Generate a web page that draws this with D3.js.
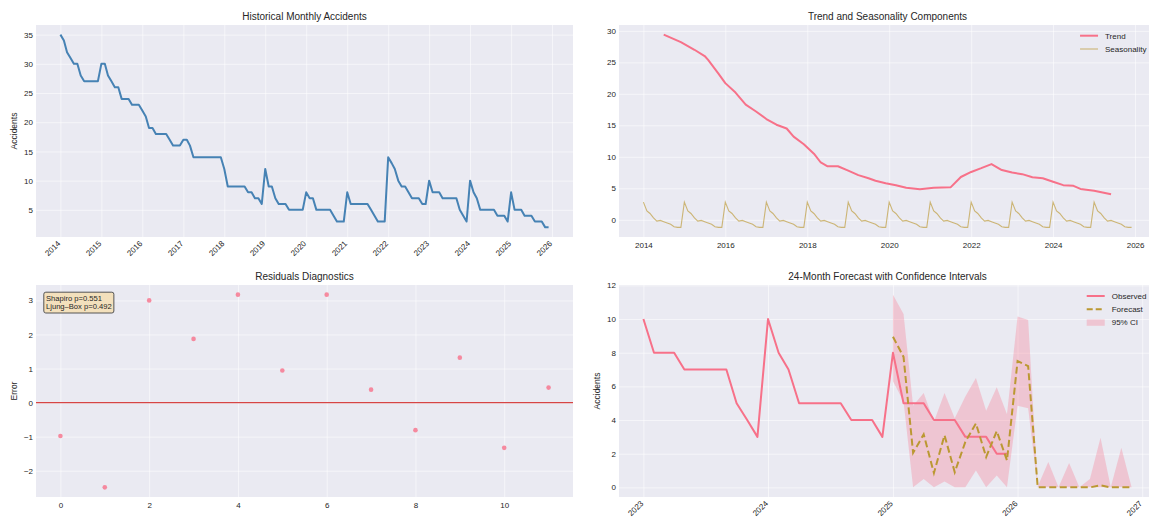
<!DOCTYPE html>
<html>
<head>
<meta charset="utf-8">
<script src="https://d3js.org/d3.v7.min.js"></script>
<style>
  body { margin: 0; background: #fff; }
  svg { display: block; font-family: "Liberation Sans", Arial, sans-serif; }
</style>
</head>
<body>
<svg id="chart" width="1149" height="523"></svg>
<script>
// ---- data ----
var startMonth = "2014-01";
var accidents = [
  35,34,32,31,30,30,28,27,27,27,27,27,
  30,30,28,27,26,26,24,24,24,23,23,23,
  22,21,19,19,18,18,18,18,17,16,16,16,
  17,17,16,14,14,14,14,14,14,14,14,14,
  12,9,9,9,9,9,9,8,8,7,7,6,
  12,9,9,7,6,6,6,5,5,5,5,5,
  8,7,7,5,5,5,5,5,4,3,3,3,
  8,6,6,6,6,6,6,5,4,3,3,3,
  14,13,12,10,9,9,8,7,7,7,6,6,
  10,8,8,8,7,7,7,7,7,5,4,3,
  10,8,7,5,5,5,5,5,4,4,4,3,
  8,5,5,5,4,4,4,3,3,3,2,2
];

var trendMonths = ["2014-07","2014-12","2015-04","2015-07","2015-08","2015-11","2016-01","2016-04",
  "2016-07","2016-10","2017-01","2017-04","2017-07","2017-09","2017-12","2018-03","2018-05","2018-07",
  "2018-10","2019-01","2019-04","2019-07","2019-09","2019-12","2020-03","2020-06","2020-10","2021-02",
  "2021-07","2021-10","2022-01","2022-04","2022-07","2022-10","2023-01","2023-04","2023-07","2023-10",
  "2024-01","2024-04","2024-07","2024-09","2025-01","2025-06"];
var trendValues = [29.4,28.2,27.0,26.0,25.4,23.2,21.7,20.2,
  18.3,17.2,16.0,15.1,14.5,13.2,12.0,10.5,9.1,8.5,
  8.5,7.8,7.1,6.6,6.2,5.8,5.5,5.1,4.85,5.1,
  5.15,6.8,7.6,8.2,8.85,7.9,7.5,7.25,6.75,6.6,
  6.05,5.5,5.4,4.9,4.6,4.05];

// one year of the additive seasonal component, Jan..Dec
var seasonalPattern = [2.8, 1.4, 1.0, 0.3, -0.2, -0.1, -0.3, -0.5, -0.7, -1.1, -1.2, -1.2];

var residuals = [-0.98, -2.49, 3.0, 1.87, 3.17, 0.94, 3.17, 0.38, -0.81, 1.32, -1.33, 0.44];
var shapiroP = "0.551", ljungBoxP = "0.492";

var observedFrom = "2023-01";
var forecastStart = "2025-01";
var forecastValues = [8.95,7.75,2.05,3.15,0.85,3.1,0.9,2.7,3.8,1.8,3.35,1.6,
  7.5,7.2,0,0,0,0,0,0,0.12,0,0,0];
var ciUpper = [11.45,10.3,4.85,5.6,3.9,5.6,4.1,5.4,6.5,4.55,5.95,4.35,
  10.15,9.95,0.05,1.5,0,1.45,0,0.5,2.95,0,2.35,0];
var ciLower = [6.3,5.1,0,0.5,0,0.35,0,0,1.0,0,0.7,0,
  4.85,4.7,0,0,0,0,0,0,0,0,0,0];

// tick values
var histYTicks = [5,10,15,20,25,30,35];
var histXYears = d3.range(2014, 2027);
var compYTicks = [0,5,10,15,20,25,30];
var compXYears = [2014,2016,2018,2020,2022,2024,2026];
var residYTicks = [-2,-1,0,1,2,3];
var residXTicks = [0,2,4,6,8,10];
var fcYTicks = [0,2,4,6,8,10,12];
var fcXYears = [2023,2024,2025,2026,2027];

// ---- layout ----
var svg = d3.select("#chart");
var W = 537, H = 212;
var colX = [36, 619], rowY = [25, 285];
var bg = "#eaeaf2", ink = "#262626";
var pink = "#f77189", gold = "#bb9832";

var parseMonth = d3.timeParse("%Y-%m");
var minus = function(v) { return String(v).replace("-", "\u2212"); };

function monthsFrom(start, n) {
  var s = parseMonth(start);
  return d3.range(n).map(function(i) { return d3.timeMonth.offset(s, i); });
}
// matplotlib-style 5% margins
function padded(ext) {
  var a = +ext[0], b = +ext[1], m = (b - a) * 0.05;
  return [a - m, b + m];
}
function yearDates(years) {
  return years.map(function(y) { return new Date(y, 0, 1); });
}

function addPanel(col, row, title) {
  var g = svg.append("g").attr("transform", "translate(" + col + "," + row + ")");
  g.append("rect").attr("width", W).attr("height", H).attr("fill", bg);
  g.append("text")
    .attr("x", W / 2).attr("y", -5)
    .attr("text-anchor", "middle")
    .attr("font-size", 10)
    .attr("fill", ink)
    .text(title);
  return g;
}

function drawAxes(g, x, y, xTicks, yTicks, xFmt, yFmt, rotate) {
  // white grid
  g.append("g").attr("class", "grid")
    .call(d3.axisLeft(y).tickValues(yTicks).tickSize(-W).tickFormat(""));
  g.append("g").attr("class", "grid")
    .attr("transform", "translate(0," + H + ")")
    .call(d3.axisBottom(x).tickValues(xTicks).tickSize(-H).tickFormat(""));
  g.selectAll(".grid .domain").remove();
  g.selectAll(".grid line").attr("stroke", "#fff").attr("stroke-opacity", 0.55);

  var ya = g.append("g")
    .call(d3.axisLeft(y).tickValues(yTicks).tickSize(0).tickPadding(3).tickFormat(yFmt));
  var xa = g.append("g")
    .attr("transform", "translate(0," + H + ")")
    .call(d3.axisBottom(x).tickValues(xTicks).tickSize(0).tickPadding(5).tickFormat(xFmt));
  [ya, xa].forEach(function(a) {
    a.select(".domain").remove();
    a.attr("font-size", 8).attr("font-family", null);
    a.selectAll("text").attr("fill", ink);
  });
  if (rotate) {
    xa.selectAll("text")
      .attr("text-anchor", "end")
      .attr("y", 0)
      .attr("dy", "0.71em")
      .attr("transform", "translate(-4,3) rotate(-45)");
  }
}

function yLabel(g, dx, label) {
  g.append("text")
    .attr("transform", "translate(" + dx + "," + (H / 2) + ") rotate(-90)")
    .attr("text-anchor", "middle")
    .attr("dy", "0.35em")
    .attr("font-size", 8.5)
    .attr("fill", ink)
    .text(label);
}

function addLegend(g, items, top) {
  var lg = g.append("g");
  var step = 13.3;
  var texts = items.map(function(d, i) {
    return lg.append("text")
      .attr("y", top + i * step)
      .attr("dy", "0.35em")
      .attr("font-size", 8)
      .attr("fill", ink)
      .text(d.label);
  });
  var maxW = d3.max(texts, function(t) { return t.node().getComputedTextLength(); });
  var tx = W - 9.6 - maxW;
  texts.forEach(function(t) { t.attr("x", tx); });
  items.forEach(function(d, i) {
    var cy = top + i * step;
    if (d.patch) {
      lg.append("rect")
        .attr("x", tx - 25).attr("y", cy - 3.2)
        .attr("width", 18).attr("height", 6.4)
        .attr("fill", d.color).attr("fill-opacity", d.opacity);
    } else {
      lg.append("line")
        .attr("x1", tx - 25).attr("x2", tx - 7)
        .attr("y1", cy).attr("y2", cy)
        .attr("stroke", d.color)
        .attr("stroke-width", d.width)
        .attr("stroke-opacity", d.opacity || 1)
        .attr("stroke-dasharray", d.dash || null);
    }
  });
}

var yearFmt = d3.timeFormat("%Y");

// ---- 1. Historical Monthly Accidents ----
var dates = monthsFrom(startMonth, accidents.length);
var hist = dates.map(function(d, i) { return { date: d, value: accidents[i] }; });

var g1 = addPanel(colX[0], rowY[0], "Historical Monthly Accidents");
var x1 = d3.scaleTime().domain(padded(d3.extent(dates)).map(function(t) { return new Date(t); })).range([0, W]);
var y1 = d3.scaleLinear().domain(padded(d3.extent(accidents))).range([H, 0]);
drawAxes(g1, x1, y1, yearDates(histXYears), histYTicks, yearFmt, minus, true);
yLabel(g1, -22, "Accidents");

g1.append("path")
  .datum(hist)
  .attr("fill", "none")
  .attr("stroke", "#4682b4")
  .attr("stroke-width", 2)
  .attr("stroke-linejoin", "round")
  .attr("d", d3.line()
    .x(function(d) { return x1(d.date); })
    .y(function(d) { return y1(d.value); }));

// ---- 2. Trend and Seasonality ----
var trend = trendMonths.map(function(m, i) { return { date: parseMonth(m), value: trendValues[i] }; });
var seasonal = dates.map(function(d) { return { date: d, value: seasonalPattern[d.getMonth()] }; });

var g2 = addPanel(colX[1], rowY[0], "Trend and Seasonality Components");
var x2 = d3.scaleTime().domain(padded(d3.extent(dates)).map(function(t) { return new Date(t); })).range([0, W]);
var y2 = d3.scaleLinear()
  .domain(padded([d3.min(seasonalPattern), d3.max(trendValues)]))
  .range([H, 0]);
drawAxes(g2, x2, y2, yearDates(compXYears), compYTicks, yearFmt, minus, false);

var line2 = d3.line()
  .x(function(d) { return x2(d.date); })
  .y(function(d) { return y2(d.value); });
g2.append("path").datum(trend)
  .attr("fill", "none").attr("stroke", pink).attr("stroke-width", 2)
  .attr("stroke-linejoin", "round").attr("d", line2);
g2.append("path").datum(seasonal)
  .attr("fill", "none").attr("stroke", gold).attr("stroke-opacity", 0.65)
  .attr("stroke-width", 1.1).attr("d", line2);

addLegend(g2, [
  { label: "Trend", color: pink, width: 2 },
  { label: "Seasonality", color: gold, width: 1.1, opacity: 0.65 }
], 10.7);

// ---- 3. Residuals Diagnostics ----
var g3 = addPanel(colX[0], rowY[1], "Residuals Diagnostics");
var x3 = d3.scaleLinear().domain(padded([0, residuals.length - 1])).range([0, W]);
var y3 = d3.scaleLinear().domain(padded(d3.extent(residuals))).range([H, 0]);
drawAxes(g3, x3, y3, residXTicks, residYTicks, d3.format("d"), minus, false);
yLabel(g3, -22, "Error");

g3.append("line")
  .attr("x1", 0).attr("x2", W)
  .attr("y1", y3(0)).attr("y2", y3(0))
  .attr("stroke", "#d64545")
  .attr("stroke-width", 1.3);

g3.selectAll(".dot")
  .data(residuals)
  .enter().append("circle")
    .attr("class", "dot")
    .attr("cx", function(d, i) { return x3(i); })
    .attr("cy", function(d) { return y3(d); })
    .attr("r", 2.3)
    .attr("fill", pink)
    .attr("fill-opacity", 0.8);

// stats box
var box = g3.append("g");
var statLines = ["Shapiro p=" + shapiroP, "Ljung\u2013Box p=" + ljungBoxP];
var statText = box.append("text")
  .attr("font-size", 7.6)
  .attr("fill", ink);
statText.selectAll("tspan")
  .data(statLines)
  .enter().append("tspan")
    .attr("x", 10)
    .attr("y", function(d, i) { return 16 + i * 8.4; })
    .text(function(d) { return d; });
var bb = statText.node().getBBox();
box.insert("rect", "text")
  .attr("x", bb.x - 2.2).attr("y", bb.y - 1.8)
  .attr("width", bb.width + 4.4).attr("height", bb.height + 3.4)
  .attr("rx", 2)
  .attr("fill", "#f5deb3").attr("fill-opacity", 0.85)
  .attr("stroke", "#555").attr("stroke-width", 1);

// ---- 4. 24-Month Forecast ----
var obsStart = dates.findIndex(function(d) { return +d === +parseMonth(observedFrom); });
var observed = hist.slice(obsStart);
var fcDates = monthsFrom(forecastStart, forecastValues.length);
var fc = fcDates.map(function(d, i) {
  return { date: d, value: forecastValues[i], lo: ciLower[i], hi: ciUpper[i] };
});

var g4 = addPanel(colX[1], rowY[1], "24-Month Forecast with Confidence Intervals");
var x4 = d3.scaleTime()
  .domain(padded([observed[0].date, fcDates[fcDates.length - 1]]).map(function(t) { return new Date(t); }))
  .range([0, W]);
var y4 = d3.scaleLinear()
  .domain(padded([Math.min(d3.min(ciLower), d3.min(accidents.slice(obsStart))), d3.max(ciUpper)]))
  .range([H, 0]);
drawAxes(g4, x4, y4, yearDates(fcXYears), fcYTicks, yearFmt, minus, true);
yLabel(g4, -22, "Accidents");

g4.append("path").datum(fc)
  .attr("fill", pink).attr("fill-opacity", 0.3)
  .attr("d", d3.area()
    .x(function(d) { return x4(d.date); })
    .y0(function(d) { return y4(d.lo); })
    .y1(function(d) { return y4(d.hi); }));

var line4 = d3.line()
  .x(function(d) { return x4(d.date); })
  .y(function(d) { return y4(d.value); });
g4.append("path").datum(observed)
  .attr("fill", "none").attr("stroke", pink).attr("stroke-width", 2)
  .attr("stroke-linejoin", "round").attr("d", line4);
g4.append("path").datum(fc)
  .attr("fill", "none").attr("stroke", gold).attr("stroke-width", 2)
  .attr("stroke-dasharray", "7,3.5").attr("d", line4);

addLegend(g4, [
  { label: "Observed", color: pink, width: 2 },
  { label: "Forecast", color: gold, width: 2, dash: "6,3" },
  { label: "95% CI", color: pink, opacity: 0.3, patch: true }
], 11);
</script>
</body>
</html>
